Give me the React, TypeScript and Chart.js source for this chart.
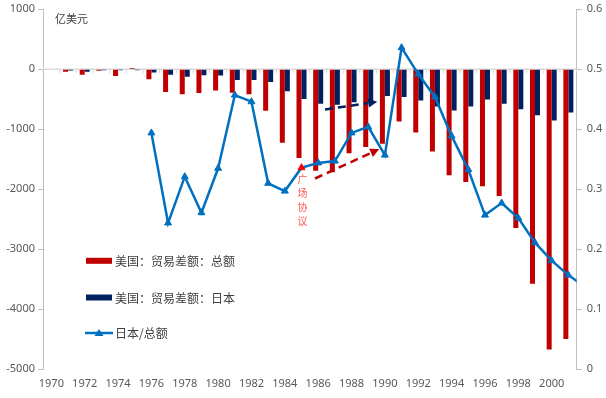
import React, { useEffect, useRef } from "react";
import { Chart, registerables } from "chart.js";

Chart.register(...registerables);

const years = [
  "1970", "1971", "1972", "1973", "1974", "1975", "1976", "1977", "1978", "1979",
  "1980", "1981", "1982", "1983", "1984", "1985", "1986", "1987", "1988", "1989",
  "1990", "1991", "1992", "1993", "1994", "1995", "1996", "1997", "1998", "1999",
  "2000", "2001",
];

// 美国：贸易差额：总额 (亿美元)
const usTotal = [
  0, -40, -90, -25, -110, 20, -165, -380, -415, -395,
  -355, -390, -415, -690, -1225, -1480, -1690, -1715, -1400, -1295,
  -1240, -870, -1055, -1370, -1765, -1880, -1950, -2110, -2645, -3575,
  -4670, -4495,
];

// 美国：贸易差额：日本 (亿美元)
const usJapan = [
  0, -20, -40, -15, -15, -15, -55, -90, -123, -100,
  -105, -180, -180, -210, -365, -493, -575, -590, -550, -555,
  -445, -460, -520, -620, -685, -620, -505, -575, -665, -765,
  -855, -720,
];

// 日本/总额
const japanShare = [
  null, null, null, null, null, null, 0.394, 0.244, 0.321, 0.261,
  0.335, 0.457, 0.446, 0.31, 0.297, 0.336, 0.344, 0.347, 0.394, 0.404,
  0.357, 0.536, 0.492, 0.454, 0.389, 0.333, 0.257, 0.277, 0.252, 0.211,
  0.181, 0.157,
];
// continuation of the line past the last category (clipped at the axis)
const japanShareNext = 0.137;

const leftTicks = [-5000, -4000, -3000, -2000, -1000, 0, 1000];
const rightTicks = [0, 0.1, 0.2, 0.3, 0.4, 0.5, 0.6];

const legendLabels = ["美国：贸易差额：总额", "美国：贸易差额：日本", "日本/总额"];
const unitLabel = "亿美元";
const plazaLabel = ["广", "场", "协", "议"];
const plazaIndex = 15;

const RED = "#C00000";
const NAVY = "#002060";
const BLUE = "#0070C0";
const AXIS = "#BFBFBF";
const TEXT = "#595959";

function drawArrow(ctx: CanvasRenderingContext2D, x1: number, y1: number, x2: number, y2: number, color: string) {
  const ang = Math.atan2(y2 - y1, x2 - x1);
  const head = 9;
  const bx = x2 - Math.cos(ang) * head;
  const by = y2 - Math.sin(ang) * head;
  ctx.save();
  ctx.strokeStyle = color;
  ctx.fillStyle = color;
  ctx.lineWidth = 2.5;
  ctx.setLineDash([8, 5]);
  ctx.beginPath();
  ctx.moveTo(x1, y1);
  ctx.lineTo(bx, by);
  ctx.stroke();
  ctx.setLineDash([]);
  ctx.beginPath();
  ctx.moveTo(x2, y2);
  ctx.lineTo(bx + Math.cos(ang + Math.PI / 2) * 4.5, by + Math.sin(ang + Math.PI / 2) * 4.5);
  ctx.lineTo(bx + Math.cos(ang - Math.PI / 2) * 4.5, by + Math.sin(ang - Math.PI / 2) * 4.5);
  ctx.closePath();
  ctx.fill();
  ctx.restore();
}

const decorPlugin = {
  id: "decor",
  beforeDatasetsDraw(chart: any) {
    const { ctx, scales } = chart;
    const x = scales.x;
    const y = scales.y;
    const y0 = y.getPixelForValue(0);
    ctx.save();
    ctx.strokeStyle = "#D9D9D9";
    ctx.lineWidth = 1.5;
    ctx.beginPath();
    ctx.moveTo(chart.chartArea.left, y0);
    ctx.lineTo(chart.chartArea.right, y0);
    ctx.stroke();
    ctx.lineWidth = 1;
    for (let i = 0; i <= years.length; i++) {
      const px = x.getPixelForValue(i - 0.5);
      ctx.beginPath();
      ctx.moveTo(px, y0);
      ctx.lineTo(px, y0 + 4);
      ctx.stroke();
    }
    ctx.restore();
  },
  afterDatasetsDraw(chart: any) {
    const { ctx, scales, chartArea } = chart;
    const x = scales.x;
    const y1 = scales.y1;
    const last = years.length - 1;
    ctx.save();
    ctx.beginPath();
    ctx.rect(chartArea.left, chartArea.top, chartArea.right - chartArea.left, chartArea.bottom - chartArea.top);
    ctx.clip();
    ctx.strokeStyle = BLUE;
    ctx.lineWidth = 2.5;
    ctx.beginPath();
    ctx.moveTo(x.getPixelForValue(last), y1.getPixelForValue(japanShare[last] as number));
    ctx.lineTo(x.getPixelForValue(last + 1), y1.getPixelForValue(japanShareNext));
    ctx.stroke();
    ctx.restore();
  },
  afterDraw(chart: any) {
    const { ctx, scales } = chart;
    const x = scales.x;
    const y1 = scales.y1;

    // unit label
    ctx.save();
    ctx.fillStyle = "#404040";
    ctx.font = "11px 'Noto Sans CJK SC'";
    ctx.textBaseline = "middle";
    ctx.textAlign = "left";
    ctx.fillText(unitLabel, 55, 19);

    // plaza accord text
    ctx.fillStyle = "#FF5A5A";
    ctx.font = "10px 'Noto Sans CJK SC'";
    ctx.textAlign = "center";
    const px = x.getPixelForValue(plazaIndex);
    const topY = y1.getPixelForValue(0.316);
    plazaLabel.forEach((c, i) => {
      ctx.fillText(c, px + 1, topY + i * 13.7);
    });

    // arrows
    drawArrow(ctx, x.getPixelForValue(15.81), y1.getPixelForValue(0.318), x.getPixelForValue(19.66), y1.getPixelForValue(0.367), RED);
    drawArrow(ctx, x.getPixelForValue(16.41), y1.getPixelForValue(0.433), x.getPixelForValue(19.54), y1.getPixelForValue(0.446), NAVY);

    // legend
    const lx = 86;
    const rows = [260.8, 297.5, 333];
    ctx.font = "12px 'Noto Sans CJK SC'";
    ctx.textAlign = "left";
    ctx.textBaseline = "middle";
    ctx.fillStyle = RED;
    ctx.fillRect(lx, rows[0] - 3, 26, 6);
    ctx.fillStyle = NAVY;
    ctx.fillRect(lx, rows[1] - 3, 26, 6);
    ctx.strokeStyle = BLUE;
    ctx.lineWidth = 2.5;
    ctx.beginPath();
    ctx.moveTo(lx - 1, rows[2]);
    ctx.lineTo(lx + 27, rows[2]);
    ctx.stroke();
    ctx.fillStyle = BLUE;
    ctx.beginPath();
    ctx.moveTo(lx + 13, rows[2] - 4);
    ctx.lineTo(lx + 17.5, rows[2] + 3);
    ctx.lineTo(lx + 8.5, rows[2] + 3);
    ctx.closePath();
    ctx.fill();
    ctx.fillStyle = "#404040";
    legendLabels.forEach((t, i) => ctx.fillText(t, 115, rows[i] + 0.5));
    ctx.restore();
  },
};

export default function App() {
  const ref = useRef<HTMLCanvasElement | null>(null);
  useEffect(() => {
    if (!ref.current) return;
    const pointColors = japanShare.map((_, i) => (i === plazaIndex ? "#FF0000" : BLUE));
    const chart = new Chart(ref.current, {
      type: "bar",
      data: {
        labels: years,
        datasets: [
          {
            type: "line",
            label: legendLabels[2],
            data: japanShare as any,
            yAxisID: "y1",
            borderColor: BLUE,
            backgroundColor: BLUE,
            borderWidth: 2.5,
            pointStyle: "triangle",
            pointRadius: 4,
            pointBackgroundColor: pointColors,
            pointBorderColor: pointColors,
            pointBorderWidth: 1,
            tension: 0,
            order: 0,
          } as any,
          {
            label: legendLabels[0],
            data: usTotal,
            yAxisID: "y",
            backgroundColor: RED,
            categoryPercentage: 0.6,
            barPercentage: 1.0,
            order: 1,
          },
          {
            label: legendLabels[1],
            data: usJapan,
            yAxisID: "y",
            backgroundColor: NAVY,
            categoryPercentage: 0.6,
            barPercentage: 1.0,
            order: 1,
          },
        ],
      },
      options: {
        animation: false,
        responsive: true,
        maintainAspectRatio: false,
        layout: { padding: { top: 9.3, left: 0, right: 0, bottom: 0 } },
        plugins: { legend: { display: false }, tooltip: { enabled: false } },
        scales: {
          x: {
            grid: { display: false },
            border: { display: false },
            ticks: {
              autoSkip: false,
              maxRotation: 0,
              padding: 0,
              color: TEXT,
              font: { family: "'Noto Sans'", size: 11 },
              callback: (_v: any, i: number) => (i % 2 === 0 ? years[i] : ""),
            },
            afterFit: (s: any) => {
              s.height = 28.7;
              s.paddingLeft = 0;
              s.paddingRight = 0;
            },
          },
          y: {
            position: "left",
            min: leftTicks[0],
            max: leftTicks[leftTicks.length - 1],
            afterBuildTicks: (s: any) => {
              s.ticks = leftTicks.map((v) => ({ value: v }));
            },
            grid: { drawOnChartArea: false, drawTicks: true, tickLength: 5, color: AXIS },
            border: { display: true, color: AXIS, width: 1 },
            ticks: {
              padding: 3,
              color: TEXT,
              font: { family: "'Noto Sans'", size: 11 },
              callback: (v: any) => String(v),
            },
            afterFit: (s: any) => {
              s.width = 43;
              s.paddingTop = 0;
              s.paddingBottom = 0;
            },
          },
          y1: {
            position: "right",
            min: rightTicks[0],
            max: rightTicks[rightTicks.length - 1],
            afterBuildTicks: (s: any) => {
              s.ticks = rightTicks.map((v) => ({ value: v }));
            },
            grid: { drawOnChartArea: false, drawTicks: true, tickLength: 5, color: AXIS },
            border: { display: true, color: AXIS, width: 1 },
            ticks: {
              padding: 5,
              color: TEXT,
              font: { family: "'Noto Sans'", size: 11 },
              callback: (v: any) => (v === 0 ? "0" : Number(v).toFixed(1)),
            },
            afterFit: (s: any) => {
              s.width = 29.3;
              s.paddingTop = 0;
              s.paddingBottom = 0;
            },
          },
        },
      },
      plugins: [decorPlugin],
    });
    return () => chart.destroy();
  }, []);
  return (
    <div style={{ position: "fixed", left: 0, top: 0, width: 606, height: 398, background: "#fff" }}>
      <canvas ref={ref} />
    </div>
  );
}
